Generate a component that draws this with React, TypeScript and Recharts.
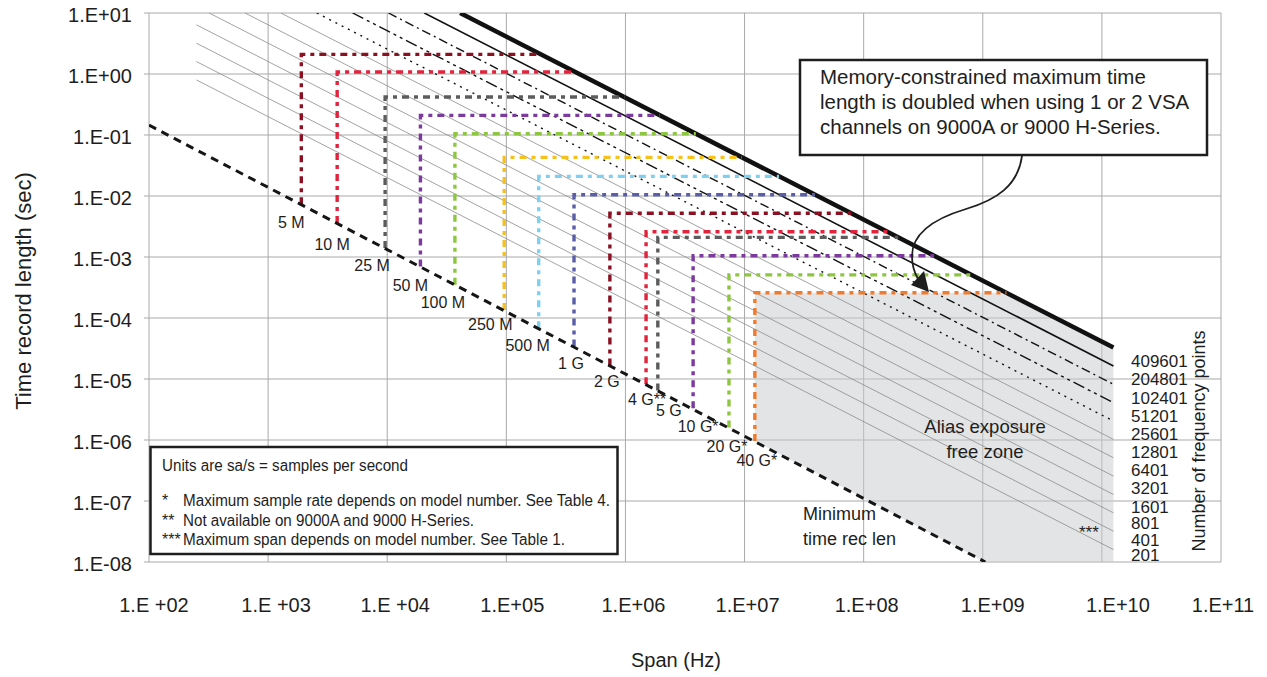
import React from 'react';
import { ScatterChart, Scatter, XAxis, YAxis, CartesianGrid } from 'recharts';

// ---- axes ----
const X_TICKS = [1e2, 1e3, 1e4, 1e5, 1e6, 1e7, 1e8, 1e9, 1e10, 1e11];
const X_TICK_LABELS = ['1.E +02', '1.E +03', '1.E +04', '1.E+05', '1.E+06', '1.E+07', '1.E+08', '1.E+09', '1.E+10', '1.E+11'];
const Y_TICKS = [1e-8, 1e-7, 1e-6, 1e-5, 1e-4, 1e-3, 1e-2, 1e-1, 1e0, 1e1];
const Y_TICK_LABELS = ['1.E-08', '1.E-07', '1.E-06', '1.E-05', '1.E-04', '1.E-03', '1.E-02', '1.E-01', '1.E+00', '1.E+01'];

// ---- number of frequency points: time = (points - 1) / span ----
const FREQ_POINTS = [409601, 204801, 102401, 51201, 25601, 12801, 6401, 3201, 1601, 801, 401, 201];
const FREQ_START_SPAN = [40960, 20480, 10240, 5120, 2560, 1280, 640, 320, 250, 250, 250, 250];
const FREQ_END_SPAN = 1.25e10;

// ---- sample-rate steps ----
const RATE_LABELS = ['5 M', '10 M', '25 M', '50 M', '100 M', '250 M', '500 M', '1 G', '2 G', '4 G**', '5 G', '10 G*', '20 G*', '40 G*'];
const RATE_SPAN = [1.9e3, 3.8e3, 9.6e3, 1.9e4, 3.7e4, 9.6e4, 1.87e5, 3.7e5, 7.4e5, 1.49e6, 1.87e6, 3.7e6, 7.4e6, 1.22e7];
const RATE_TMIN = [7.3e-3, 3.6e-3, 1.4e-3, 7.0e-4, 3.5e-4, 1.35e-4, 6.8e-5, 3.4e-5, 1.67e-5, 8.2e-6, 6.5e-6, 3.3e-6, 1.6e-6, 9.6e-7];
const RATE_TMAX = [2.1, 1.08, 0.42, 0.21, 0.105, 0.043, 0.021, 0.0105, 0.0052, 0.0026, 0.0021, 0.00105, 0.00051, 0.00026];
const RATE_SPAN_END = [1.95e5, 3.8e5, 9.8e5, 1.95e6, 3.9e6, 9.5e6, 1.95e7, 3.9e7, 7.9e7, 1.58e8, 1.95e8, 3.9e8, 8.0e8, 1.58e9];

// ---- minimum time record length ----
const MIN_LEN_SPAN = [100, 1.05e9];
const MIN_LEN_T = [0.145, 1e-8];

// ---- alias exposure free zone outline ----
const ZONE_SPAN = [1.22e7, 1.58e9, 1.25e10, 1.25e10, 1.05e9, 1.22e7];
const ZONE_T = [2.6e-4, 2.6e-4, 3.277e-5, 1e-8, 1e-8, 9.6e-7];

// ---- styles ----
const FONT = "'Liberation Sans', Arial, Helvetica, sans-serif";
const GRID = '#a9a9a9';
const INK = '#1e1e1e';

const FREQ_STYLE = [
  { stroke: '#111', width: 4.5, dash: undefined },
  { stroke: '#111', width: 1.6, dash: undefined },
  { stroke: '#111', width: 1.4, dash: '9 4 2 4' },
  { stroke: '#111', width: 1.4, dash: '12 4 3 4 3 4' },
  { stroke: '#111', width: 1.4, dash: '2 5' },
  { stroke: '#8c8c8c', width: 0.8, dash: undefined },
  { stroke: '#8c8c8c', width: 0.8, dash: undefined },
  { stroke: '#8c8c8c', width: 0.8, dash: undefined },
  { stroke: '#8c8c8c', width: 0.8, dash: undefined },
  { stroke: '#8c8c8c', width: 0.8, dash: undefined },
  { stroke: '#8c8c8c', width: 0.8, dash: undefined },
  { stroke: '#8c8c8c', width: 0.8, dash: undefined },
];

const RATE_COLORS = [
  '#8b1022', '#e3223c', '#5c5c5c', '#7d3a9e', '#8dc63f', '#f5c11a', '#7fd0ef',
  '#5a5ea8', '#8b1022', '#e3223c', '#5c5c5c', '#7d3a9e', '#8dc63f', '#f07b2c',
];

const RATE_LABEL_OFFSET: [number, number][] = [
  [-10, 18], [-5, 21], [-13, 17], [-10, 19], [-12, 18], [-14, 14], [-11, 17],
  [-3, 17], [-3, 16], [1, 15], [11, 20], [5, 18], [-2, 19], [2, 19],
];

const X_TICK_DX = [5, 8, 8, 6, 8, 3, 3, 10, 16, 2];

const FREQ_LABEL_Y = [367, 385, 404, 422, 440, 458, 476, 494, 513, 529, 546, 561];

const NoDot = () => <g />;

const XTick = (props: any) => {
  const { x, y, index } = props;
  return (
    <text x={x + (X_TICK_DX[index] ?? 0)} y={y} dy="0.71em" textAnchor="middle" fontSize={20} fill={INK} fontFamily={FONT}>
      {X_TICK_LABELS[index]}
    </text>
  );
};

const YTick = (props: any) => {
  const { x, y, index } = props;
  return (
    <text x={x} y={y + 2} dy="0.355em" textAnchor="end" fontSize={20} fill={INK} fontFamily={FONT}>
      {Y_TICK_LABELS[index]}
    </text>
  );
};

const RateLabel = (p: any) => {
  const i = p.payload.i;
  const [dx, dy] = RATE_LABEL_OFFSET[i];
  return (
    <text x={p.cx + dx} y={p.cy + dy} textAnchor="middle" dominantBaseline="central" fontSize={16} fill={INK} fontFamily={FONT}>
      {RATE_LABELS[i]}
    </text>
  );
};

const ZonePolygon = (lp: any) => {
  const pts = (lp.points || []) as { x: number; y: number }[];
  if (!pts.length) return <g />;
  const d = 'M' + pts.map((p) => `${p.x},${p.y}`).join('L') + 'Z';
  return <path d={d} fill="#c8c9cd" fillOpacity={0.5} stroke="none" />;
};

export default function App() {
  const zoneData = ZONE_SPAN.map((s, i) => ({ x: s, y: ZONE_T[i] }));
  const minData = MIN_LEN_SPAN.map((s, i) => ({ x: s, y: MIN_LEN_T[i] }));
  const labelData = RATE_SPAN.map((s, i) => ({ x: s, y: RATE_TMIN[i], i }));

  return (
    <div style={{ position: 'absolute', left: 0, top: 0, width: 1267, height: 677, background: '#fff', fontFamily: FONT }}>
      <ScatterChart width={1267} height={677} margin={{ top: 13, right: 46, bottom: 55, left: 69 }}>
        <CartesianGrid stroke={GRID} strokeWidth={1} />
        <XAxis
          dataKey="x"
          type="number"
          scale="log"
          domain={[1e2, 1e11]}
          ticks={X_TICKS}
          interval={0}
          allowDataOverflow
          height={60}
          axisLine={false}
          tickLine={false}
          tickSize={0}
          tickMargin={36}
          tick={<XTick />}
        />
        <YAxis
          dataKey="y"
          type="number"
          scale="log"
          domain={[1e-8, 1e1]}
          ticks={Y_TICKS}
          interval={0}
          allowDataOverflow
          width={80}
          axisLine={false}
          tickLine={{ stroke: GRID }}
          tickSize={5}
          tickMargin={12}
          tick={<YTick />}
        />

        <Scatter data={zoneData} isAnimationActive={false} shape={NoDot} line={ZonePolygon} />

        {FREQ_POINTS.map((n, i) => {
          const st = FREQ_STYLE[i];
          const data = [
            { x: FREQ_START_SPAN[i], y: (n - 1) / FREQ_START_SPAN[i] },
            { x: FREQ_END_SPAN, y: (n - 1) / FREQ_END_SPAN },
          ];
          return (
            <Scatter
              key={`f${n}`}
              data={data}
              fill="none"
              isAnimationActive={false}
              shape={NoDot}
              line={{ stroke: st.stroke, strokeWidth: st.width, strokeDasharray: st.dash, fill: 'none' }}
            />
          );
        }).reverse()}

        {RATE_SPAN.map((s, i) => {
          const data = [
            { x: s, y: RATE_TMIN[i] },
            { x: s, y: RATE_TMAX[i] },
            { x: RATE_SPAN_END[i], y: RATE_TMAX[i] },
          ];
          return (
            <Scatter
              key={`r${i}`}
              data={data}
              fill="none"
              isAnimationActive={false}
              shape={NoDot}
              line={{ stroke: RATE_COLORS[i], strokeWidth: 3.4, strokeDasharray: '7 5 4 5', fill: 'none' }}
            />
          );
        })}

        <Scatter
          data={minData}
          fill="none"
          isAnimationActive={false}
          shape={NoDot}
          line={{ stroke: '#151515', strokeWidth: 3, strokeDasharray: '8 6', fill: 'none' }}
        />

        <Scatter data={labelData} isAnimationActive={false} shape={RateLabel} />
      </ScatterChart>

      <svg
        width={1267}
        height={677}
        style={{ position: 'absolute', left: 0, top: 0, pointerEvents: 'none' }}
        fontFamily={FONT}
      >
        {/* axis titles */}
        <text transform="rotate(-90 23 291)" x={23} y={291} textAnchor="middle" dominantBaseline="central" fontSize={22} fill={INK}>
          Time record length (sec)
        </text>
        <text x={676} y={667} textAnchor="middle" fontSize={20} fill={INK}>
          Span (Hz)
        </text>
        <text transform="rotate(-90 1199 441)" x={1199} y={441} textAnchor="middle" dominantBaseline="central" fontSize={18} fill={INK}>
          Number of frequency points
        </text>

        {/* frequency point labels */}
        {FREQ_POINTS.map((n, i) => (
          <text key={`fl${n}`} x={1131} y={FREQ_LABEL_Y[i]} fontSize={17} fill={INK}>
            {n}
          </text>
        ))}

        {/* zone and minimum-length annotations */}
        <text x={985} y={433} textAnchor="middle" fontSize={18.5} fill={INK}>Alias exposure</text>
        <text x={985} y={458} textAnchor="middle" fontSize={18.5} fill={INK}>free zone</text>
        <text x={803} y={520} fontSize={18} fill={INK}>Minimum</text>
        <text x={803} y={545} fontSize={18} fill={INK}>time rec len</text>
        <text x={1079} y={538} fontSize={17} fill={INK}>***</text>

        {/* callout */}
        <rect x={800} y={60} width={407} height={95} fill="#fff" stroke={INK} strokeWidth={2.5} />
        <text x={820} y={84} fontSize={20.5} fill={INK}>Memory-constrained maximum time</text>
        <text x={820} y={109} fontSize={20.5} fill={INK}>length is doubled when using 1 or 2 VSA</text>
        <text x={820} y={134} fontSize={20.5} fill={INK}>channels on 9000A or 9000 H-Series.</text>
        <path
          d="M1022,156 C1018,186 996,200 966,209 C936,218 912,232 912,256 C912,266 914,272 918,279"
          fill="none"
          stroke={INK}
          strokeWidth={1.8}
        />
        <polygon points="929,292 911,285 924,271" fill={INK} />

        {/* notes box */}
        <rect x={150.5} y={447} width={467} height={107} fill="#fff" stroke={INK} strokeWidth={2.5} />
        <text x={162} y={471} fontSize={16} fill={INK} textLength={246} lengthAdjust="spacingAndGlyphs">
          Units are sa/s = samples per second
        </text>
        <text x={162} y={506} fontSize={16} fill={INK}>*</text>
        <text x={183} y={506} fontSize={16} fill={INK} textLength={427} lengthAdjust="spacingAndGlyphs">
          Maximum sample rate depends on model number. See Table 4.
        </text>
        <text x={162} y={526} fontSize={16} fill={INK}>**</text>
        <text x={183} y={526} fontSize={16} fill={INK} textLength={291} lengthAdjust="spacingAndGlyphs">
          Not available on 9000A and 9000 H-Series.
        </text>
        <text x={162} y={545} fontSize={16} fill={INK}>***</text>
        <text x={183} y={545} fontSize={16} fill={INK} textLength={382} lengthAdjust="spacingAndGlyphs">
          Maximum span depends on model number. See Table 1.
        </text>
      </svg>
    </div>
  );
}
